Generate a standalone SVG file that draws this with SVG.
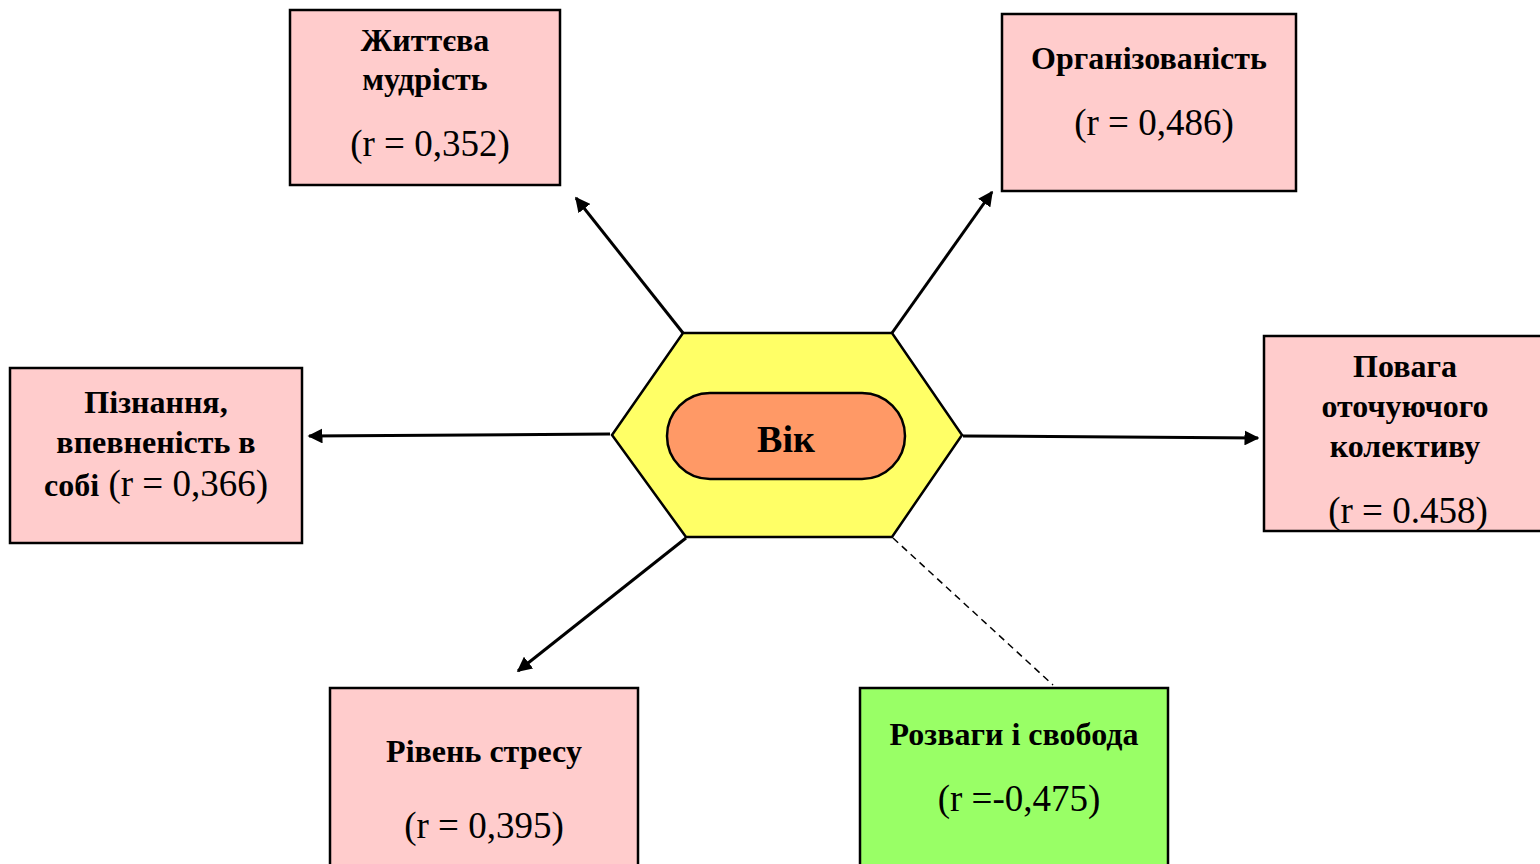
<svg xmlns="http://www.w3.org/2000/svg" width="1540" height="864" viewBox="0 0 1540 864">
<style>
.box{fill:#FFCCCC;stroke:#000;stroke-width:2.5}
.green{fill:#99FF66;stroke:#000;stroke-width:2.5}
.b{font-family:"Liberation Serif","Times New Roman",serif;font-weight:bold;font-size:32px;text-anchor:middle;fill:#000}
.r{font-family:"Liberation Serif","Times New Roman",serif;font-size:37px;text-anchor:middle;fill:#000}
.arr{stroke:#000;stroke-width:3;fill:none;marker-end:url(#ah)}
</style>
<defs>
<marker id="ah" viewBox="0 0 10 10" refX="9" refY="5" markerWidth="5" markerHeight="5" orient="auto" markerUnits="strokeWidth">
<path d="M0,0 L10,5 L0,10 z" fill="#000"/>
</marker>
<clipPath id="clipPov"><rect x="1264" y="336" width="280" height="195"/></clipPath>
</defs>
<rect width="1540" height="864" fill="#fff"/>

<g id="connectors">
<line class="arr" x1="683" y1="333" x2="576" y2="198"/>
<line class="arr" x1="892" y1="333" x2="992" y2="192"/>
<line class="arr" x1="610" y1="434" x2="309" y2="436"/>
<line class="arr" x1="963" y1="436" x2="1258" y2="438"/>
<line class="arr" x1="686" y1="538" x2="518" y2="671"/>
<line x1="893" y1="538" x2="1053" y2="685" stroke="#000" stroke-width="1.5" stroke-dasharray="7,5"/>
</g>

<g id="center">
<polygon points="683,333 892,333 962,435 892,537 686,537 612,435" fill="#FFFF66" stroke="#000" stroke-width="2.5"/>
<rect x="667" y="393" width="238" height="86" rx="43" ry="43" fill="#FF9966" stroke="#000" stroke-width="2.5"/>
<text x="786" y="452" class="b" style="font-size:38px">Вік</text>
</g>

<g id="node-mudrist">
<rect class="box" x="290" y="10" width="270" height="175"/>
<text x="425" y="51" class="b">Життєва</text>
<text x="425" y="90" class="b">мудрість</text>
<text x="430" y="156" class="r">(r = 0,352)</text>
</g>

<g id="node-org">
<rect class="box" x="1002" y="14" width="294" height="177"/>
<text x="1149" y="69" class="b">Організованість</text>
<text x="1154" y="135" class="r">(r = 0,486)</text>
</g>

<g id="node-piznannia">
<rect class="box" x="10" y="368" width="292" height="175"/>
<text x="156" y="413" class="b">Пізнання,</text>
<text x="156" y="453" class="b">впевненість в</text>
<text x="156" y="496" class="r"><tspan class="b" style="font-size:32px">собі</tspan> (r = 0,366)</text>
</g>

<g id="node-povaha">
<rect class="box" x="1264" y="336" width="290" height="195"/>
<text x="1405" y="377" class="b">Повага</text>
<text x="1405" y="417" class="b">оточуючого</text>
<text x="1405" y="457" class="b">колективу</text>
<text x="1408" y="523" class="r" clip-path="url(#clipPov)">(r = 0.458)</text>
</g>

<g id="node-stres">
<rect class="box" x="330" y="688" width="308" height="190"/>
<text x="484" y="762" class="b">Рівень стресу</text>
<text x="484" y="838" class="r">(r = 0,395)</text>
</g>

<g id="node-rozvahy">
<rect class="green" x="860" y="688" width="308" height="190"/>
<text x="1014" y="745" class="b">Розваги і свобода</text>
<text x="1019" y="811" class="r">(r =-0,475)</text>
</g>
</svg>
